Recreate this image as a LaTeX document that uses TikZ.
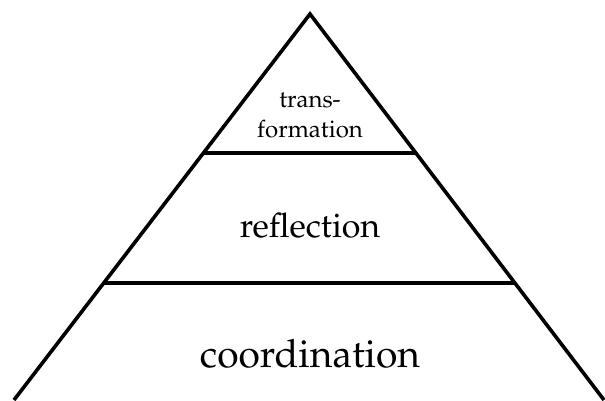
\documentclass[tikz,border=0pt]{standalone}
\usepackage[T1]{fontenc}
\usepackage{mathpazo}
\usetikzlibrary{calc}
\begin{document}
\begin{tikzpicture}[x=1pt,y=-1pt,
  edge/.style={line width=3.6pt,line join=miter},
  lbl/.style={inner sep=0pt,anchor=base,font=\rmfamily}]
\useasboundingbox (0,0) rectangle (605,400);
\coordinate (apex) at (310,14);
\coordinate (bl) at (14,400);
\coordinate (br) at (604,400);
\draw[edge] (bl) -- (apex) -- (br);
\coordinate (l1) at ($(apex)!0.36!(bl)$);
\coordinate (r1) at ($(apex)!0.36!(br)$);
\coordinate (l2) at ($(apex)!0.697!(bl)$);
\coordinate (r2) at ($(apex)!0.697!(br)$);
\draw[edge] (l1) -- (r1);
\draw[edge] (l2) -- (r2);
\node[lbl,font=\fontsize{24}{28}\selectfont] (t1) at (310,107) {trans-};
\node[lbl,font=\fontsize{24}{28}\selectfont] (t2) at (310,137) {formation};
\node[lbl,font=\fontsize{34}{40}\selectfont] (t3) at (310,237) {reflection};
\node[lbl,font=\fontsize{39}{44}\selectfont] (t4) at (310,367) {coordination};
\end{tikzpicture}
\end{document}
